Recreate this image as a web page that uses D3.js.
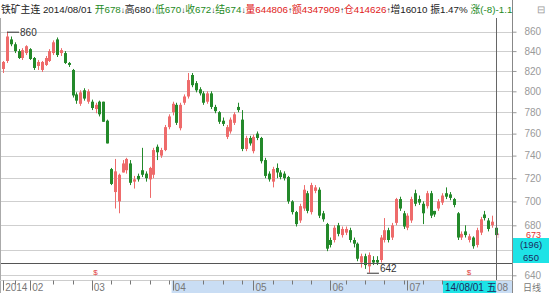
<!DOCTYPE html>
<html>
<head>
<meta charset="utf-8">
<script src="https://cdn.jsdelivr.net/npm/d3@7"></script>
<style>
  body { margin: 0; background: #fff; }
  svg { display: block; }
  text { font-family: "Liberation Sans", "Noto Sans CJK SC", sans-serif; }
</style>
</head>
<body>
<svg id="chart"></svg>
<script>
// daily OHLC, 2014-01 .. 2014-08-01
const open  = [822,830,852,847,840,833,838,842,833,825,821,826,830,838,852,838,838,828,821,797,788,801,790,790,783,790,790,772,728,708,
               700,725,727,733,717,722,727,724,719,723,748,740,745,766,780,787,765,789,795,816,808,802,798,790,798,785,780,772,757,762,
               770,785,773,746,756,744,760,756,736,724,717,729,725,724,721,700,691,684,694,707,691,709,710,690,681,668,668,680,672,674,
               676,668,665,650,655,647,652,652,652,668,676,670,682,702,690,678,684,707,702,698,696,707,692,694,699,707,706,702,690,670,
               675,668,670,664,674,689,684,680,678];
const high  = [830,860,855,849,842,843,846,843,834,831,830,835,842,851,854,843,840,829,822,799,801,803,802,792,789,791,790,773,729,737,
               724,736,738,736,722,724,747,726,730,747,750,747,768,778,790,789,789,797,818,818,810,804,800,800,800,787,781,775,768,775,
               780,789,782,758,758,759,762,757,738,726,730,733,727,726,722,701,692,698,714,709,716,714,712,692,682,670,680,682,679,679,
               678,670,666,657,657,658,655,655,672,686,678,682,703,704,692,690,704,710,705,700,709,709,692,702,707,712,708,703,691,675,
               680,673,671,678,687,692,686,688,680];
const low   = [818,828,845,838,832,831,836,831,821,821,819,825,829,836,834,835,827,824,794,788,786,791,788,782,779,776,771,751,714,694,
               690,725,724,714,711,717,721,717,703,720,736,738,744,764,777,768,763,787,793,804,799,796,787,788,783,779,769,767,755,760,
               768,780,744,744,749,742,754,733,720,717,712,720,719,718,698,689,679,682,692,690,689,707,686,683,659,662,666,671,670,672,
               666,662,651,646,645,642,648,648,650,666,666,668,680,692,677,676,682,696,697,681,694,686,687,692,697,702,701,695,668,668,
               670,666,661,662,672,684,675,678,670];
const close = [829,855,847,840,833,841,845,832,823,829,829,833,840,849,836,841,828,826,796,791,799,793,800,784,787,778,771,751,715,726,
               723,733,737,716,719,719,723,720,729,745,743,745,766,776,788,770,787,795,811,806,801,798,789,798,785,781,771,769,766,773,
               778,782,746,756,751,757,756,735,722,719,728,725,721,720,700,691,681,696,710,692,714,712,688,685,661,664,678,673,677,677,
               668,665,653,655,648,656,650,650,670,676,668,680,702,694,679,688,702,698,699,690,707,688,689,700,705,704,703,697,670,673,
               672,671,663,676,685,686,677,683,672];

// axis labels
const priceTicks = [640,660,680,700,720,740,760,780,800,820,840,860];
const monthIdx   = [0,7,23,44,65,85,105,128];
const monthLab   = ['2014','02','03','04','05','06','07','08'];
const weekIdx    = [3,13,18,28,33,38,43,52,57,62,70,75,80,89,94,99,104,109,114,119,124];

const W = 549, H = 293;
const plotR = 512.5, plotTop = 18, plotBot = 280.5, xhair = 128, xhairPrice = 650, lastPrice = 673;
const up = '#ee6b6b', down = '#23892a';

const svg = d3.select('#chart').attr('width', W).attr('height', H);
svg.append('rect').attr('width', W).attr('height', H).attr('fill', '#fff');

const data = open.map((o, i) => ({i, o, h: high[i], l: low[i], c: close[i]}));

const x = d3.scaleLinear().domain([0, data.length - 1]).range([3.2, 496]);
const y = d3.scaleLog().domain([640, 860]).range([275.3, 31.7]);

// bottom time bar
svg.append('rect').attr('x', x(44) - 1).attr('y', plotBot).attr('width', plotR - x(44) + 1).attr('height', H - plotBot)
   .attr('fill', '#c9ddf4');

// grid
svg.append('g').selectAll('line').data(priceTicks).join('line')
   .attr('x1', 0).attr('x2', plotR).attr('y1', d => Math.round(y(d)) + 0.5).attr('y2', d => Math.round(y(d)) + 0.5)
   .attr('stroke', '#cfcfcf');

// right axis (the 660 label sits under the crosshair price box)
const yAxis = svg.append('g').attr('transform', `translate(${plotR},0)`)
   .call(d3.axisRight(y).tickValues(priceTicks).tickFormat(d => d === 660 ? '' : d).tickSize(4).tickPadding(8));
yAxis.select('.domain').remove();
yAxis.selectAll('line').attr('stroke', '#999');
yAxis.selectAll('text').attr('fill', '#9a9a9a').attr('font-size', 10)
   .attr('font-family', '"Liberation Sans", sans-serif');

// candles
const g = svg.append('g');
g.selectAll('line.wick').data(data).join('line').attr('class', 'wick')
   .attr('x1', d => Math.round(x(d.i)) + 0.5).attr('x2', d => Math.round(x(d.i)) + 0.5)
   .attr('y1', d => y(d.h)).attr('y2', d => y(d.l))
   .attr('stroke', d => d.c >= d.o ? up : down);
g.selectAll('rect.body').data(data).join('rect').attr('class', 'body')
   .attr('x', d => Math.round(x(d.i)) - 1).attr('width', 3)
   .attr('y', d => y(Math.max(d.o, d.c)))
   .attr('height', d => Math.max(1, Math.abs(y(d.o) - y(d.c))))
   .attr('fill', d => d.c >= d.o ? up : down);

// high / low markers
const hiI = d3.maxIndex(high), loI = d3.minIndex(low);
svg.append('path').attr('fill', 'none').attr('stroke', '#333')
   .attr('d', `M${x(hiI)},${y(high[hiI]) + 0.5}H${x(hiI) + 12}`);
svg.append('text').attr('x', x(hiI) + 13).attr('y', y(high[hiI]) + 4).attr('font-size', 10).attr('fill', '#333')
   .text(high[hiI]);
svg.append('path').attr('fill', 'none').attr('stroke', '#333')
   .attr('d', `M${x(loI) - 2},${y(low[loI]) + 0.5}H${x(loI) + 10}`);
svg.append('text').attr('x', x(loI) + 11).attr('y', y(low[loI]) - 1).attr('font-size', 10).attr('fill', '#333')
   .text(low[loI]);

// event markers
[[24, 642.5], [121, 642.5]].forEach(([i, p]) => {
  svg.append('text').attr('x', x(i)).attr('y', y(p) + 3).attr('text-anchor', 'middle')
     .attr('font-size', 8).attr('fill', '#e03c3c').text('$');
});
svg.append('text').attr('x', x(128) + 2).attr('y', y(lastPrice) + 4).attr('text-anchor', 'middle')
   .attr('font-size', 8).attr('fill', '#e03c3c').text('↑');

// crosshair
svg.append('line').attr('x1', 0).attr('x2', plotR).attr('y1', Math.round(y(xhairPrice)) + 0.5)
   .attr('y2', Math.round(y(xhairPrice)) + 0.5).attr('stroke', '#555');
svg.append('line').attr('x1', Math.round(x(xhair)) + 0.5).attr('x2', Math.round(x(xhair)) + 0.5)
   .attr('y1', plotTop).attr('y2', plotBot).attr('stroke', '#666');

// borders
svg.append('line').attr('x1', plotR).attr('x2', plotR).attr('y1', 0).attr('y2', H).attr('stroke', '#888');
svg.append('line').attr('x1', 0.5).attr('x2', 0.5).attr('y1', plotTop).attr('y2', H).attr('stroke', '#aaa');
svg.append('line').attr('x1', 0).attr('x2', plotR).attr('y1', plotBot).attr('y2', plotBot).attr('stroke', '#ccc');

// time axis ticks & labels
svg.append('g').selectAll('line').data(weekIdx).join('line')
   .attr('x1', d => Math.round(x(d)) + 0.5).attr('x2', d => Math.round(x(d)) + 0.5)
   .attr('y1', plotBot).attr('y2', plotBot + 4).attr('stroke', '#777');
svg.append('g').selectAll('line').data(monthIdx.slice(0, -1)).join('line')
   .attr('x1', d => Math.round(x(d)) + 0.5).attr('x2', d => Math.round(x(d)) + 0.5)
   .attr('y1', plotBot).attr('y2', plotBot + 10).attr('stroke', '#777');
svg.append('g').selectAll('text').data(monthIdx).join('text')
   .attr('x', (d, k) => x(d) + (k === monthIdx.length - 1 ? 1 : 2)).attr('y', 290.5)
   .attr('font-size', 10).attr('fill', '#777').text((d, k) => monthLab[k]);

// date box at crosshair
svg.append('rect').attr('x', 443).attr('y', 281).attr('width', x(xhair) - 443).attr('height', 12).attr('fill', '#1ee3e6');
svg.append('text').attr('x', 445).attr('y', 291).attr('font-size', 10).attr('fill', '#1c2a60').text('14/08/01 五');

// price box at crosshair
svg.append('rect').attr('x', plotR + 0.5).attr('y', 238).attr('width', W - plotR).attr('height', 25).attr('fill', '#1ee3e6');
svg.append('text').attr('x', 531).attr('y', 247.5).attr('text-anchor', 'middle').attr('font-size', 9.5)
   .attr('fill', '#1c2a60').text('(196)');
svg.append('text').attr('x', 531).attr('y', 261).attr('text-anchor', 'middle').attr('font-size', 9.5)
   .attr('fill', '#1c2a60').text(xhairPrice);

// last price
svg.append('text').attr('x', 526).attr('y', 238).attr('font-size', 9).attr('fill', '#e03030').text(lastPrice);

svg.append('text').attr('x', 523).attr('y', 290.5).attr('font-size', 9).attr('fill', '#777').text('日线');

// title
const G = '#1d8a1d', R = '#e02020', K = '#222';
const parts = [['铁矿主连 2014/08/01 ', K], ['开678', G], ['↓', K], ['高680', K], ['↓', K], ['低670', G], ['↓', K],
  ['收672', G], ['↓', K], ['结674', G], ['↓', K], ['量644806', R], ['↑', K], ['额4347909', R], ['↑', K],
  ['仓414626', R], ['↑', K], ['增16010 ', K], ['振1.47% ', K], ['涨(-8)', G], ['-1.1%', G]];
svg.append('clipPath').attr('id', 'tclip').append('rect').attr('width', plotR).attr('height', 18);
const title = svg.append('text').attr('clip-path', 'url(#tclip)').attr('x', 1).attr('y', 13).attr('font-size', 9.8);
title.selectAll('tspan').data(parts).join('tspan').attr('fill', d => d[1])
   .attr('font-size', d => /^[↓↑]$/.test(d[0]) ? 8 : null).text(d => d[0]);
svg.append('text').attr('x', 537).attr('y', 13).attr('font-size', 10).attr('fill', '#999').text('⊟');
</script>
</body>
</html>
